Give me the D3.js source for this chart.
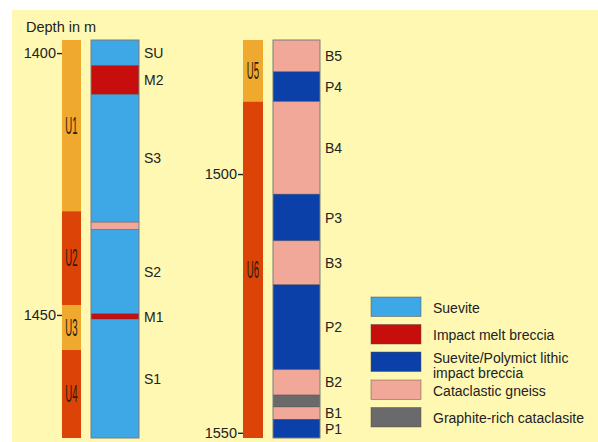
<!DOCTYPE html>
<html>
<head>
<meta charset="utf-8">
<script src="https://cdn.jsdelivr.net/npm/d3@7"></script>
<style>
  html, body { margin: 0; padding: 0; background: #ffffff; }
  svg { display: block; }
  text { font-family: "Liberation Sans", Arial, sans-serif; }
</style>
</head>
<body>
<svg id="chart" width="598" height="442"></svg>
<script>
// Stratigraphic units (depth in m)
const unitNames = ["U1", "U2", "U3", "U4", "U5", "U6"];
const unitTop   = [1397.5, 1430.2, 1448.1, 1456.7, 1474.1, 1486.0];
const unitBase  = [1430.2, 1448.1, 1456.7, 1473.5, 1486.0, 1551.0];

// Lithology intervals (depth in m)
const lithCodes = ["SU", "M2", "S3", "", "S2", "M1", "S1",
                   "B5", "P4", "B4", "P3", "B3", "P2", "B2", "", "B1", "P1"];
const lithTypes = ["suevite", "melt", "suevite", "gneiss", "suevite", "melt", "suevite",
                   "gneiss", "polymict", "gneiss", "polymict", "gneiss", "polymict",
                   "gneiss", "graphite", "gneiss", "polymict"];
const lithTop   = [1397.5, 1402.4, 1407.9, 1432.3, 1433.7, 1449.8, 1450.8,
                   1474.1, 1480.25, 1486.0, 1503.9, 1512.9, 1521.4, 1537.8, 1542.7, 1545.0, 1547.4];
const lithBase  = [1402.4, 1407.9, 1432.3, 1433.7, 1449.8, 1450.8, 1473.5,
                   1480.25, 1486.0, 1503.9, 1512.9, 1521.4, 1537.8, 1542.7, 1545.0, 1547.4, 1551.0];

// The core log is split in two columns
const columnTop  = [1397.5, 1474.1];
const columnBase = [1473.5, 1551.0];
const depthTicks = [[1400, 1450], [1500, 1550]];

// Legend
const legendTypes  = ["suevite", "melt", "polymict", "gneiss", "graphite"];
const legendLabels = [["Suevite"], ["Impact melt breccia"],
                      ["Suevite/Polymict lithic", "impact breccia"],
                      ["Cataclastic gneiss"], ["Graphite-rich cataclasite"]];

const lithColor = d3.scaleOrdinal()
  .domain(["suevite", "melt", "polymict", "gneiss", "graphite"])
  .range(["#3ea7e6", "#c80d0d", "#0a40a8", "#f1a898", "#6a6a6a"]);
const unitColor = ["#efa92e", "#dc4306"];

const svg = d3.select("#chart");

// background panel
svg.append("rect").attr("x", 12).attr("y", 10).attr("width", 586).attr("height", 432)
  .attr("fill", "#fff8b3");

svg.append("text").attr("x", 26).attr("y", 32).attr("font-size", 14.5).attr("fill", "#222")
  .text("Depth in m");

// column layout
const cols = [
  { unitX: 62, unitW: 19, lithX: 91, lithW: 48 },
  { unitX: 243, unitW: 20, lithX: 273, lithW: 47 }
];

const yScales = columnTop.map((t, i) =>
  d3.scaleLinear().domain([t, columnBase[i]]).range([40, 438]));

function columnOf(top) {
  return top >= columnTop[1] - 0.01 ? 1 : 0;
}

cols.forEach((c, ci) => {
  const y = yScales[ci];

  // depth axis
  const ax = svg.append("g").attr("transform", `translate(${c.unitX},0)`)
    .call(d3.axisLeft(y).tickValues(depthTicks[ci]).tickSize(5).tickPadding(1).tickFormat(d3.format("d")));
  ax.attr("font-size", null).attr("font-family", null);
  ax.select(".domain").remove();
  ax.selectAll(".tick line").attr("stroke", "#222").attr("stroke-width", 1.4);
  ax.selectAll(".tick text").attr("font-size", 14.5).attr("fill", "#222");

  // units
  unitNames.forEach((name, i) => {
    if (columnOf(unitTop[i]) !== ci) return;
    const y0 = y(unitTop[i]), y1 = y(unitBase[i]);
    svg.append("rect").attr("x", c.unitX).attr("y", y0).attr("width", c.unitW).attr("height", y1 - y0)
      .attr("fill", unitColor[i % 2]);
    const cx = c.unitX + c.unitW / 2, cy = (y0 + y1) / 2;
    svg.append("text")
      .attr("transform", `translate(${cx},${cy}) scale(0.6,1.45)`)
      .attr("text-anchor", "middle").attr("dy", "0.36em")
      .attr("font-size", 16).attr("fill", "#2e1c08")
      .text(name);
  });

  // lithology
  lithCodes.forEach((code, i) => {
    if (columnOf(lithTop[i]) !== ci) return;
    const y0 = y(lithTop[i]), y1 = y(lithBase[i]);
    svg.append("rect").attr("x", c.lithX).attr("y", y0).attr("width", c.lithW).attr("height", y1 - y0)
      .attr("fill", lithColor(lithTypes[i]))
      .attr("stroke", "rgba(60,60,80,0.45)").attr("stroke-width", 0.7);
    if (code) {
      svg.append("text").attr("x", c.lithX + c.lithW + 5).attr("y", (y0 + y1) / 2)
        .attr("dy", "0.36em").attr("font-size", 14).attr("fill", "#222").text(code);
    }
  });

  // column outline
  svg.append("rect").attr("x", c.lithX).attr("y", y(columnTop[ci]))
    .attr("width", c.lithW).attr("height", y(columnBase[ci]) - y(columnTop[ci]))
    .attr("fill", "none").attr("stroke", "#8a8a8a").attr("stroke-width", 0.8);
});

// legend
const rowY = [297, 324.5, 352, 380, 407.5];
const lg = svg.append("g");
legendTypes.forEach((t, i) => {
  lg.append("rect").attr("x", 371).attr("y", rowY[i]).attr("width", 50).attr("height", 19.5)
    .attr("fill", lithColor(t)).attr("stroke", "rgba(90,80,60,0.6)").attr("stroke-width", 0.8);
  const lines = legendLabels[i];
  const cy = rowY[i] + 9.5;
  const text = lg.append("text").attr("x", 433).attr("font-size", 14).attr("fill", "#222");
  lines.forEach((l, k) => {
    text.append("tspan").attr("x", 433)
      .attr("y", lines.length > 1 ? cy - 4 + k * 15.5 : cy + 1)
      .attr("dy", "0.36em").text(l);
  });
});
</script>
</body>
</html>
